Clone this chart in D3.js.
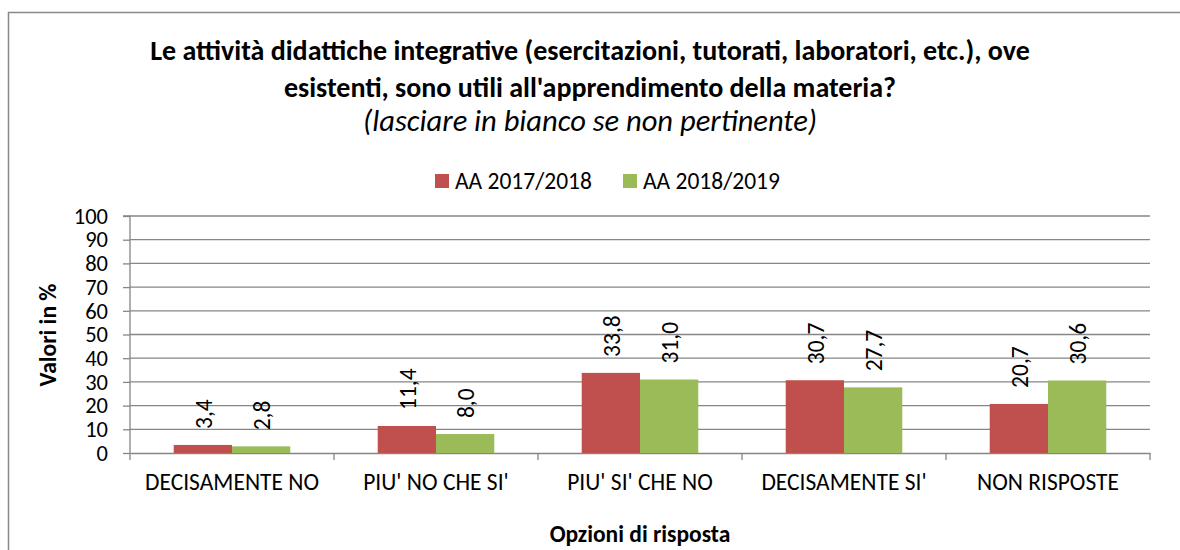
<!DOCTYPE html>
<html>
<head>
<meta charset="utf-8">
<script src="https://cdn.jsdelivr.net/npm/d3@7"></script>
<style>
  body { margin: 0; background: #fff; }
  svg text { font-family: Carlito, Lato, "Open Sans", sans-serif; fill: #000; }
</style>
</head>
<body>
<div id="graf"></div>
<script>
// dati del grafico
const categorie = ["DECISAMENTE NO", "PIU' NO CHE SI'", "PIU' SI' CHE NO", "DECISAMENTE SI'", "NON RISPOSTE"];
const serie = ["AA 2017/2018", "AA 2018/2019"];
const valori2017 = [3.4, 11.4, 33.8, 30.7, 20.7];
const valori2018 = [2.8, 8.0, 31.0, 27.7, 30.6];
const yTicks = [0, 10, 20, 30, 40, 50, 60, 70, 80, 90, 100];
const colori = ["#C0504D", "#9BBB59"];

const W = 1180, H = 550;
const margin = { top: 216, right: 30, bottom: 97, left: 130 };
const w = W - margin.left - margin.right;
const h = H - margin.top - margin.bottom;
const fs = "23.5px";

const svg = d3.select("#graf").append("svg").attr("width", W).attr("height", H);

// cornice
svg.append("rect")
  .attr("x", 8.5).attr("y", 12.5)
  .attr("width", 1200).attr("height", 600)
  .attr("fill", "none").attr("stroke", "#888").attr("stroke-width", 1.5);

// titolo
svg.append("text").attr("x", 590).attr("y", 60).attr("text-anchor", "middle")
  .style("font-size", "28px").style("font-weight", "bold")
  .text("Le attività didattiche integrative (esercitazioni, tutorati, laboratori, etc.), ove");
svg.append("text").attr("x", 590).attr("y", 97).attr("text-anchor", "middle")
  .style("font-size", "28px").style("font-weight", "bold")
  .text("esistenti, sono utili all'apprendimento della materia?");
svg.append("text").attr("x", 590).attr("y", 131).attr("text-anchor", "middle")
  .style("font-size", "30.5px").style("font-style", "italic")
  .text("(lasciare in bianco se non pertinente)");

// legenda
const leg = svg.append("g").attr("transform", "translate(435,181)");
serie.forEach((s, i) => {
  const g = leg.append("g").attr("transform", `translate(${i * 188},0)`);
  g.append("rect").attr("x", 0).attr("y", -7).attr("width", 14).attr("height", 14).attr("fill", colori[i]);
  g.append("text").attr("x", 20).attr("y", 8).style("font-size", fs).text(s);
});

const g = svg.append("g").attr("transform", `translate(${margin.left},${margin.top})`);

const x = d3.scaleBand().domain(categorie).range([0, w]);
const x1 = d3.scaleBand().domain(serie).range([0, x.bandwidth()]).paddingInner(0).paddingOuter(0.75);
const y = d3.scaleLinear().domain([0, 100]).range([h, 0]);

// griglia
g.append("g").selectAll("line").data(yTicks.slice(1)).join("line")
  .attr("x1", 0).attr("x2", w)
  .attr("y1", d => y(d)).attr("y2", d => y(d))
  .attr("stroke", "#868686").attr("stroke-width", 1.3);

// asse y
const yAxis = g.append("g").call(d3.axisLeft(y).tickValues(yTicks).tickSize(7).tickPadding(15));
yAxis.selectAll("text").style("font-size", "22.5px");
yAxis.selectAll("line, path").attr("stroke", "#868686").attr("stroke-width", 1.3);
yAxis.select(".domain").attr("d", `M-7,0H0V${h}`);

// asse x
const xAxis = g.append("g").attr("transform", `translate(0,${h})`)
  .call(d3.axisBottom(x).tickSize(0).tickPadding(20));
xAxis.selectAll("text").style("font-size", fs);
xAxis.select(".domain").attr("stroke", "#868686").attr("stroke-width", 1.3);
xAxis.selectAll(".tick line").remove();
g.append("g").selectAll("line").data(d3.range(categorie.length + 1)).join("line")
  .attr("x1", i => i * x.step()).attr("x2", i => i * x.step())
  .attr("y1", h).attr("y2", h + 7)
  .attr("stroke", "#868686").attr("stroke-width", 1.3);

// barre
const dati = categorie.map((c, i) => ({ cat: c, vals: [valori2017[i], valori2018[i]] }));
const gruppi = g.selectAll(".grp").data(dati).join("g")
  .attr("transform", d => `translate(${x(d.cat)},0)`);
gruppi.selectAll("rect").data(d => d.vals.map((v, i) => ({ s: serie[i], v, i }))).join("rect")
  .attr("x", d => x1(d.s)).attr("width", x1.bandwidth())
  .attr("y", d => y(d.v)).attr("height", d => h - y(d.v))
  .attr("fill", d => colori[d.i]);

// etichette
gruppi.selectAll(".lbl").data(d => d.vals.map((v, i) => ({ s: serie[i], v, i }))).join("text")
  .attr("transform", d => `translate(${x1(d.s) + x1.bandwidth() / 2 + 9},${y(d.v) - 16}) rotate(-90)`)
  .style("font-size", fs)
  .text(d => d.v.toFixed(1).replace(".", ","));

// titoli assi
svg.append("text").attr("x", 640).attr("y", 542).attr("text-anchor", "middle")
  .style("font-size", fs).style("font-weight", "bold").text("Opzioni di risposta");
svg.append("text").attr("transform", "translate(56,335) rotate(-90)").attr("text-anchor", "middle")
  .style("font-size", fs).style("font-weight", "bold").text("Valori in %");
</script>
</body>
</html>
